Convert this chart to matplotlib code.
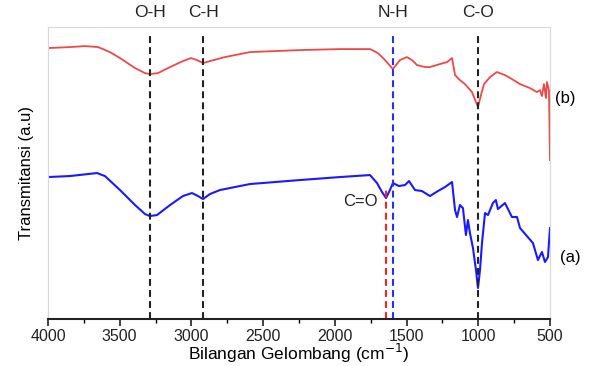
import matplotlib
matplotlib.use("Agg")
import matplotlib.pyplot as plt

plt.rcParams['font.family'] = ['Liberation Sans', 'DejaVu Sans']

# spectrum (b), red, upper trace
wn_b = [4000, 3847, 3742, 3651, 3568, 3498, 3393, 3324, 3289, 3233, 3149, 3059, 3003, 2961,
        2919, 2871, 2766, 2592, 2243, 1964, 1755, 1699, 1650, 1595, 1546, 1497, 1462, 1427,
        1372, 1337, 1267, 1218, 1183, 1162, 1128, 1093, 1044, 1002, 981, 960, 918, 870, 814,
        765, 709, 640, 591, 570, 556, 542, 528, 521, 507, 500]
tr_b = [271, 272, 273, 272, 267, 261, 251, 246, 245, 246, 252, 258, 261, 259,
        256, 258, 262, 267, 269, 270, 270, 266, 259, 250, 259, 262, 259, 254,
        252, 252, 255, 257, 261, 244, 239, 235, 227, 212, 224, 235, 242, 247, 244,
        240, 235, 231, 227, 229, 223, 235, 221, 237, 229, 159]

# spectrum (a), blue, lower trace
wn_a = [4000, 3847, 3658, 3603, 3498, 3393, 3324, 3289, 3240, 3149, 3059, 2996, 2954, 2919,
        2871, 2801, 2592, 2243, 1964, 1755, 1706, 1671, 1643, 1616, 1595, 1553, 1511, 1483,
        1441, 1393, 1337, 1281, 1232, 1183, 1162, 1148, 1128, 1107, 1086, 1072, 1058, 1037,
        1016, 1002, 988, 974, 953, 932, 898, 877, 863, 814, 765, 730, 709, 619, 584, 556,
        535, 514, 500]
tr_a = [142, 143, 146, 143, 129, 114, 105, 103, 104, 114, 123, 126, 123, 120,
        125, 129, 135, 139, 142, 144, 136, 127, 121, 129, 136, 133, 134, 138,
        129, 128, 123, 128, 132, 137, 109, 102, 114, 111, 84, 99, 86, 71,
        49, 31, 49, 76, 106, 104, 116, 119, 110, 116, 102, 102, 91, 76, 59, 67,
        57, 62, 91]

# band assignments: position, label, colour
peaks = [3289, 2919, 1594, 1001]
peak_labels = ["O-H", "C-H", "N-H", "C-O"]
peak_colors = ["#222222", "#222222", "#2030ff", "#222222"]
co_pos = 1643

fig = plt.figure(figsize=(5.91, 3.66), dpi=100)
ax = fig.add_axes([0.0812, 0.1284, 0.8494, 0.7976])

ax.plot(wn_b, tr_b, color="#f04848", lw=1.3)
ax.plot(wn_a, tr_a, color="#1a1aff", lw=1.5)

dash = (0, (3.3, 2.0))
for p, lab, c in zip(peaks, peak_labels, peak_colors):
    ax.axvline(p, ymin=0, ymax=0.98, color=c, ls=dash, lw=1.5)
    ax.text(p, 1.025, lab, transform=ax.get_xaxis_transform(), ha="center", va="bottom",
            fontsize=12.5, color="#222222")
ax.plot([co_pos, co_pos], [0, 130], color="#ff2020", ls=dash, lw=1.5)
ax.text(co_pos + 60, 118, "C=O", ha="right", va="center", fontsize=12, color="#222222")

ax.text(1.01, 0.755, "(b)", transform=ax.transAxes, ha="left", va="center", fontsize=12)
ax.text(1.02, 0.21, "(a)", transform=ax.transAxes, ha="left", va="center", fontsize=12)

ax.set_xlim(4000, 500)
ax.set_ylim(0, 292)
ax.set_yticks([])
ax.set_xticks([4000, 3500, 3000, 2500, 2000, 1500, 1000, 500])
ax.set_xticks(range(3750, 500, -500), minor=True)
ax.tick_params(axis="x", direction="out", length=5, width=1.2, labelsize=11.5,
               colors="#222222", pad=2)
ax.tick_params(axis="x", which="minor", direction="out", length=3, width=1.0)

for s in ["left", "right", "top"]:
    ax.spines[s].set_color("#d8d8d8")
    ax.spines[s].set_linewidth(0.8)
ax.spines["bottom"].set_linewidth(1.5)
ax.spines["bottom"].set_color("#222222")

ax.set_xlabel("Bilangan Gelombang (cm$^{-1}$)", fontsize=12.5, labelpad=-1)
ax.set_ylabel("Transmitansi (a.u)", fontsize=12, labelpad=10)

fig.savefig("out.png", dpi=100)
